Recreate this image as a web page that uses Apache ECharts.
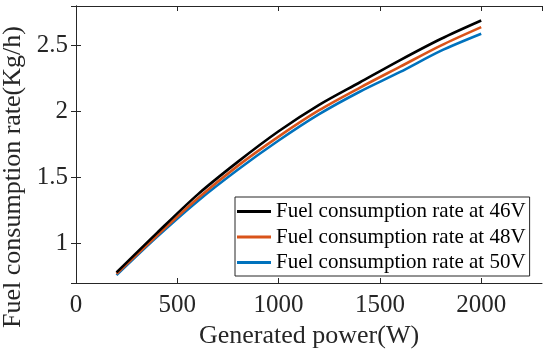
<!DOCTYPE html>
<html>
<head>
<meta charset="utf-8">
<script src="https://cdn.jsdelivr.net/npm/echarts@6/dist/echarts.min.js"></script>
<style>html,body{margin:0;padding:0;background:#fff;}#c{width:550px;height:350px;}</style>
</head>
<body>
<div id="c"></div>
<script>
var power = [200, 400, 600, 800, 1000, 1200, 1400, 1600, 1800, 2000];
var rate46 = [0.78, 1.08, 1.37, 1.62, 1.85, 2.05, 2.22, 2.39, 2.55, 2.69];
var rate48 = [0.77, 1.06, 1.34, 1.59, 1.81, 2.01, 2.18, 2.34, 2.50, 2.64];
var rate50 = [0.76, 1.05, 1.32, 1.56, 1.78, 1.98, 2.15, 2.30, 2.46, 2.59];
var seriesNames = ['Fuel consumption rate at 46V', 'Fuel consumption rate at 48V', 'Fuel consumption rate at 50V'];
var xTitle = 'Generated power(W)';
var yTitle = 'Fuel consumption rate(Kg/h)';

var FONT = "'Liberation Serif','Times New Roman',serif";
var AX = '#262626';
function pairs(ys){ return power.map(function(x,i){ return [x, ys[i]]; }); }

var chart = echarts.init(document.getElementById('c'), null, {renderer:'canvas'});
var axisCommon = {
  axisLine:{show:true, lineStyle:{color:AX, width:1}},
  axisTick:{show:true, inside:true, length:5, lineStyle:{color:AX, width:1}},
  splitLine:{show:false}
};
chart.setOption({
  animation:false,
  backgroundColor:'#fff',
  grid:{left:76, right:8, top:6, bottom:67, containLabel:false, outerBoundsMode:'none'},
  xAxis:[
    Object.assign({type:'value', min:0, max:2300, interval:500, position:'bottom',
      name:xTitle, nameLocation:'middle', nameGap:35,
      nameTextStyle:{fontFamily:FONT, fontSize:26, color:AX},
      axisLabel:{fontFamily:FONT, fontSize:25, color:AX, margin:10, showMaxLabel:false,
        formatter:function(v){ return String(v); }}}, axisCommon),
    Object.assign({type:'value', min:0, max:2300, interval:500, position:'top',
      axisLabel:{show:false}}, axisCommon)
  ],
  yAxis:[
    Object.assign({type:'value', min:0.7, max:2.8, splitNumber:5, position:'left',
      name:yTitle, nameLocation:'middle', nameGap:43, nameRotate:90,
      nameTextStyle:{fontFamily:FONT, fontSize:26, color:AX, padding:[0,65,0,0]},
      axisLabel:{fontFamily:FONT, fontSize:25, color:AX, margin:8, showMinLabel:false, showMaxLabel:false,
        formatter:function(v){ return String(v); }}}, axisCommon),
    Object.assign({type:'value', min:0.7, max:2.8, splitNumber:5, position:'right',
      axisLabel:{show:false}}, axisCommon)
  ],
  legend:{
    orient:'vertical', left:235, top:197,
    backgroundColor:'#fff', borderColor:AX, borderWidth:1, borderRadius:0,
    padding:[4,4,3,2], itemGap:4.5, itemWidth:34, itemHeight:3, icon:'rect',
    textStyle:{fontFamily:FONT, fontSize:21, color:'#000', lineHeight:21},
    data:seriesNames
  },
  series:[
    {name:seriesNames[0], type:'line', data:pairs(rate46), showSymbol:false, symbol:'none', smooth:0.3,
      lineStyle:{color:'#000000', width:2.6}, itemStyle:{color:'#000000'}, z:4},
    {name:seriesNames[1], type:'line', data:pairs(rate48), showSymbol:false, symbol:'none', smooth:0.3,
      lineStyle:{color:'#D95319', width:2.6}, itemStyle:{color:'#D95319'}, z:3},
    {name:seriesNames[2], type:'line', data:pairs(rate50), showSymbol:false, symbol:'none', smooth:0.3,
      lineStyle:{color:'#0072BD', width:2.6}, itemStyle:{color:'#0072BD'}, z:2}
  ]
});
</script>
</body>
</html>
